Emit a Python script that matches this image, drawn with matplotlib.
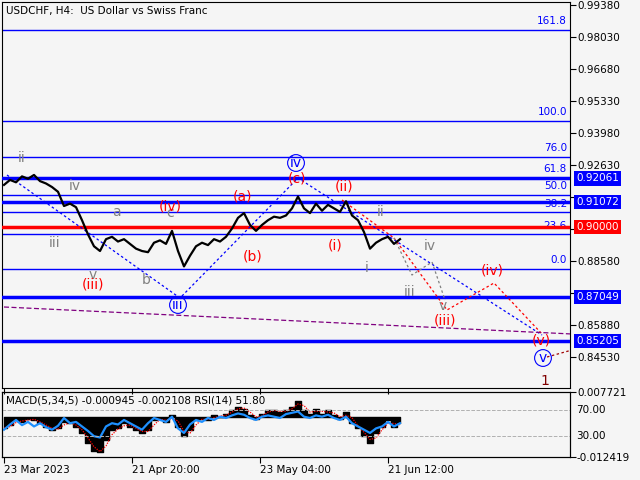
import numpy as np
import matplotlib
matplotlib.use("Agg")
import matplotlib.pyplot as plt

BG = "#f5f5f5"
price = [0.9179,0.9200,0.9190,0.9215,0.9205,0.9221,0.9195,0.9185,0.9170,0.9150,
         0.9090,0.9100,0.9085,0.9030,0.8970,0.8920,0.8900,0.8950,0.8960,0.8940,
         0.8950,0.8930,0.8910,0.8900,0.8895,0.8935,0.8945,0.8930,0.8985,0.8900,
         0.8835,0.8880,0.8920,0.8935,0.8925,0.8950,0.8940,0.8960,0.8995,0.9040,
         0.9060,0.9010,0.8985,0.9010,0.9030,0.9045,0.9040,0.9050,0.9080,0.9130,
         0.9080,0.9060,0.9100,0.9070,0.9095,0.9080,0.9065,0.9110,0.9050,0.9030,
         0.8980,0.8910,0.8935,0.8950,0.8960,0.8930,0.8950]
rsi = [40,48,55,47,52,45,50,44,40,46,58,50,52,45,38,30,28,45,50,48,
       55,50,45,40,50,58,55,52,60,42,35,48,55,52,58,55,60,58,62,65,
       63,58,55,60,62,60,58,64,66,68,60,58,62,60,63,58,55,60,50,45,
       40,35,42,45,52,45,50]
macd = [-0.0035,-0.0025,-0.0010,-0.0015,-0.0005,-0.0010,-0.0020,-0.0030,-0.0040,-0.0035,
        -0.0015,-0.0020,-0.0030,-0.0050,-0.0080,-0.0105,-0.0110,-0.0070,-0.0040,-0.0035,
        -0.0020,-0.0030,-0.0040,-0.0050,-0.0040,-0.0010,-0.0005,-0.0015,0.0005,-0.0030,
        -0.0060,-0.0040,-0.0010,-0.0005,-0.0010,0.0005,0.0000,0.0010,0.0020,0.0030,
        0.0025,0.0005,-0.0005,0.0010,0.0020,0.0020,0.0015,0.0020,0.0030,0.0050,
        0.0020,0.0010,0.0025,0.0010,0.0020,0.0005,-0.0005,0.0015,-0.0020,-0.0035,
        -0.0060,-0.0080,-0.0050,-0.0030,-0.0010,-0.0030,-0.0020]
yticks = [0.99380,0.98030,0.96680,0.95330,0.93980,0.92630,0.91280,0.89930,0.88580,0.87230,0.85880,0.84530]
hidden_ticks = [0.91280, 0.89930, 0.87230]
date_labels = ["23 Mar 2023", "21 Apr 20:00", "23 May 04:00", "21 Jun 12:00"]
date_px = [2, 130, 258, 386]
boxes = [(0.92061,"#0000ff"),(0.91072,"#0000ff"),(0.90000,"#ff0000"),(0.87049,"#0000ff"),(0.85205,"#0000ff")]
fib_levels = [0.0,23.6,38.2,50.0,61.8,76.0,100.0,161.8]
fib0, fib100 = 0.88241, 0.94487

plt.rcParams['font.family'] = ['DejaVu Sans']
fig = plt.figure(figsize=(6.4, 4.8), dpi=100, facecolor=BG)
W, H = 640, 480
ax = fig.add_axes([2/W, 1-388/H, 568/W, 386/H], facecolor=BG)
ytop, ybot = 0.9263 + (165-2)*0.000422, 0.9263 - (388-165)*0.000422
ax.set_ylim(ybot, ytop)
xs = (np.arange(len(price))*6 + 2)
ax.set_xlim(0, 568)
ax.plot(xs, price, color="black", lw=1.6, zorder=5)
ax.yaxis.tick_right()
ax.set_yticks(yticks)
ax.set_yticklabels(["" if v in hidden_ticks else f"{v:.5f}" for v in yticks], fontsize=7.5)
ax.tick_params(axis='y', length=4, pad=1)
ax.set_xticks(date_px)
ax.tick_params(axis='x', length=4, labelbottom=False)

for f in fib_levels:
    p = fib0 + (fib100-fib0)*f/100
    ax.axhline(p, color="#0000ff", lw=1)
    ax.text(565, p+0.0015, f"{f:.1f}", color="#0000ff", fontsize=7.5, ha="right", va="bottom")
for p, c in boxes:
    ax.axhline(p, color=c, lw=2.5, zorder=3)
ax.text(4, ytop-0.0015, "USDCHF, H4:  US Dollar vs Swiss Franc", fontsize=7.5, va="top")

for p, c in boxes:
    ax.text(574, p, f"{p:.5f}", fontsize=7.5, color="white", va="center",
            bbox=dict(fc=c, ec="none", pad=1.5), clip_on=False, zorder=10)

def L(pts, color, ls=(0,(2,2)), lw=0.9):
    ax.plot([q[0] for q in pts], [ybot + (388-q[1])*0.000422 for q in pts], color=color, ls=ls, lw=lw, zorder=4)
L([(5,175),(178,298),(296,178),(540,335)], "#0000ff")
L([(392,238),(445,310),(492,283),(541,335)], "#ff0000")
L([(340,200),(392,238)], "#ff0000")
L([(392,238),(410,275),(430,262),(443,300)], "#808080")
L([(2,307),(570,334)], "#800080", ls=(0,(4,2)))
L([(545,357),(570,350)], "#a00000")

labels = [("ii",22,158,"#808080"),("iv",75,186,"#808080"),("iii",55,243,"#808080"),("a",116,212,"#808080"),
          ("c",170,213,"#808080"),("b",146,280,"#808080"),("v",93,275,"#808080"),("i",367,268,"#808080"),
          ("ii",381,212,"#808080"),("iv",430,246,"#808080"),("iii",410,292,"#808080"),("v",443,306,"#808080"),
          ("(iii)",93,285,"#ff0000"),("(iv)",170,206,"#ff0000"),("(a)",242,197,"#ff0000"),("(b)",253,257,"#ff0000"),
          ("(c)",297,179,"#ff0000"),("(ii)",344,186,"#ff0000"),("(i)",335,246,"#ff0000"),("(iv)",492,270,"#ff0000"),
          ("(iii)",445,320,"#ff0000"),("(v)",541,341,"#ff0000"),("1",545,381,"#800000")]
for t, x, y, c in labels:
    fig.text(x/W, 1-y/H, t, color=c, fontsize=10, ha="center", va="center")
for t, x, y in [("iii",178,305),("iv",296,163),("v",543,358)]:
    fig.text(x/W, 1-y/H, t, color="#0000ff", fontsize=10, ha="center", va="center",
             bbox=dict(boxstyle="circle,pad=0.1", fc="none", ec="#0000ff", lw=0.8))

# sub panel
ax2 = fig.add_axes([2/W, 1-457/H, 568/W, 65/H], facecolor=BG)
ax3 = ax2.twinx()
ax3.set_ylim(-0.012419, 0.007721)
ax3.fill_between(xs, 0, macd, color="black", step="mid", zorder=1)
sig = [macd[0]] + [0.5*macd[i-1]+0.5*macd[i] for i in range(1, len(macd))]
ax3.plot(xs, sig, color="red", ls=(0,(1,1)), lw=0.9)
ax3.set_yticks([0.007721, -0.012419]); ax3.set_yticklabels(["0.007721","-0.012419"], fontsize=7.5)
ax3.tick_params(length=4, pad=1)
ax2.set_ylim(-2, 98); ax2.set_xlim(0, 568)
ax2.set_yticks([])
ax2.set_zorder(ax3.get_zorder()+1); ax2.patch.set_visible(False)
ax3.patch.set_facecolor(BG)
ax2.plot(xs, rsi, color="#1e90ff", lw=1.6)
for v in (70, 30):
    ax2.axhline(v, color="#b0b0b0", ls="--", lw=0.7)
    ax2.text(574, v, f"{v:.2f}", fontsize=7.5, va="center", clip_on=False)
ax2.text(4, 93, "MACD(5,34,5) -0.000945 -0.002108 RSI(14) 51.80", fontsize=7.5, va="top")
ax2.set_xticks(date_px)
ax2.set_xticklabels(date_labels, fontsize=7.5, ha="left")
ax2.tick_params(axis='x', length=4, pad=2)
fig.savefig("out.png", dpi=100, facecolor=BG)
